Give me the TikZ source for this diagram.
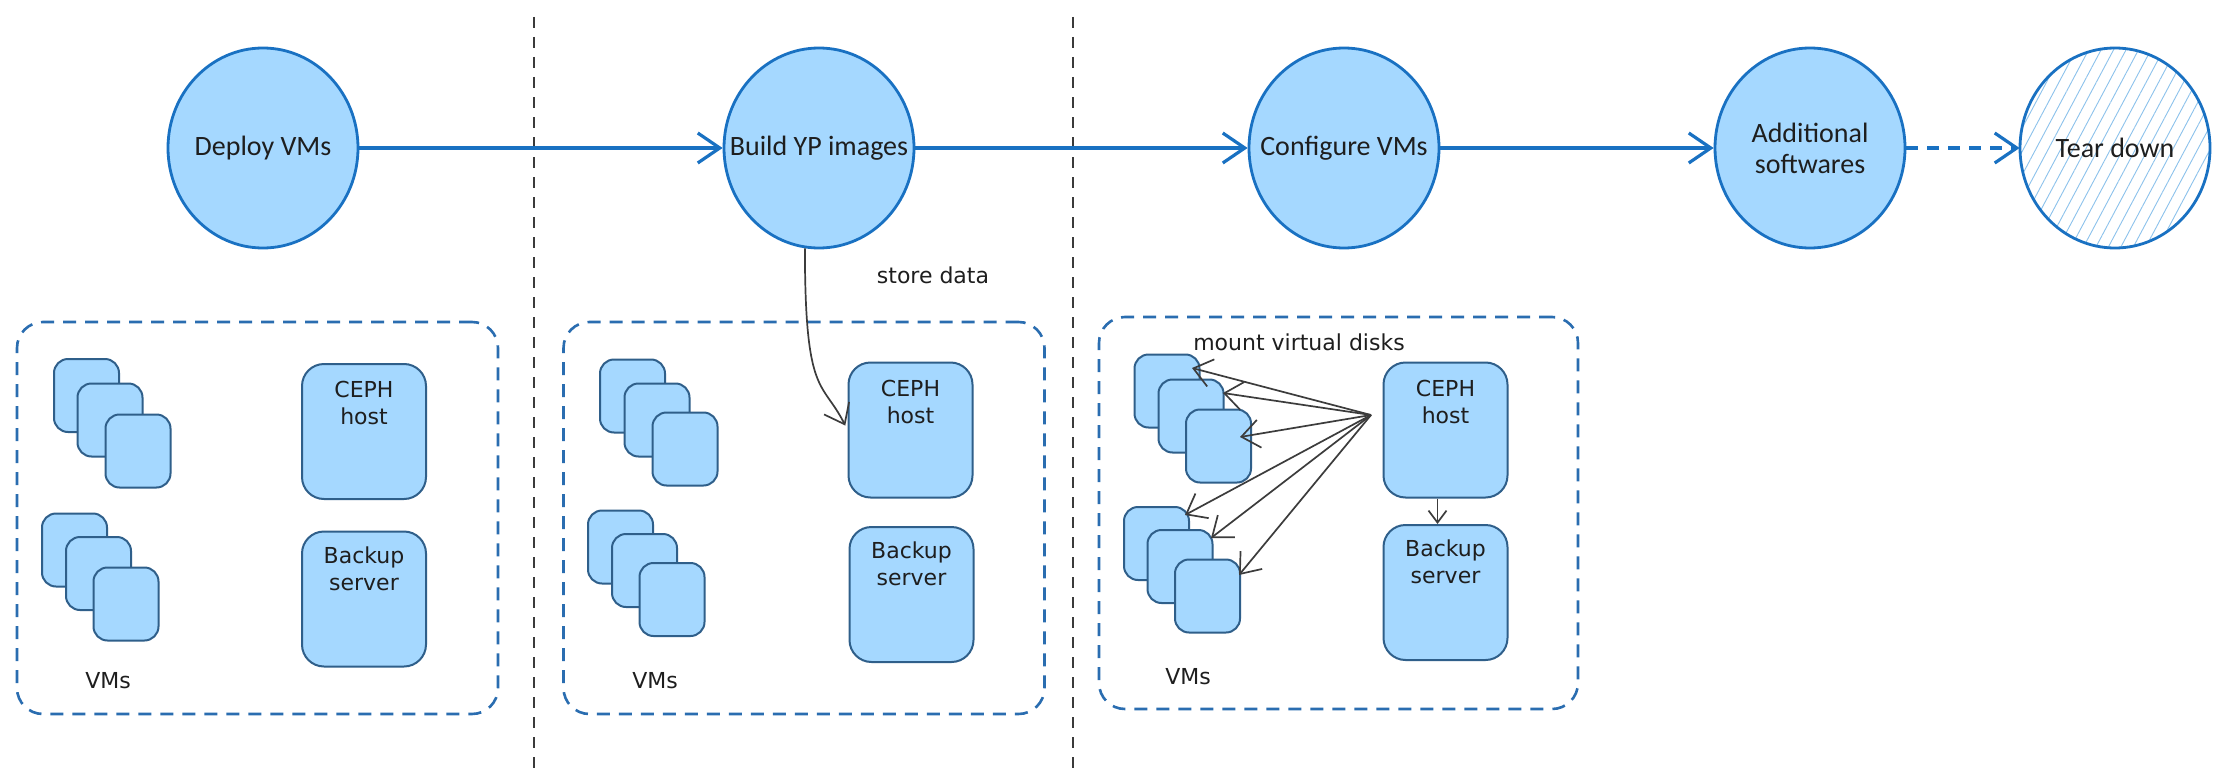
\documentclass[tikz,border=0pt]{standalone}
\usepackage{fontspec}
\setmainfont{Carlito}
\newfontfamily\boxfont{DejaVu Sans}
\usetikzlibrary{shapes.geometric,arrows.meta,patterns.meta,calc}
\definecolor{fillblue}{HTML}{A5D8FF}
\definecolor{strokeblue}{HTML}{1971C2}
\definecolor{groupblue}{HTML}{2A6DB0}
\definecolor{boxstroke}{HTML}{2F5F8A}
\definecolor{ink}{HTML}{1E1E1E}
\definecolor{hatchblue}{HTML}{8CC2EC}
\definecolor{sepgray}{HTML}{3A3A3A}
\definecolor{ptrgray}{HTML}{3C3C3C}
\tikzset{
  phase/.style={ellipse, draw=strokeblue, line width=2.8pt, fill=fillblue,
    minimum width=190pt, minimum height=200pt, inner xsep=-45pt, inner ysep=-30pt,
    align=center, text=ink, font=\fontsize{28}{31}\selectfont},
  phasehatch/.style={phase, fill=none, preaction={fill=white},
    pattern={Lines[angle=62,distance=11pt,line width=0.9pt]}, pattern color=hatchblue},
  flow/.style={draw=strokeblue, line width=3.2pt,
    -{Straight Barb[length=22pt,width=30pt]}},
  flowdash/.style={flow, dash pattern=on 12pt off 9pt},
  sepline/.style={draw=sepgray, line width=1.5pt, dash pattern=on 11pt off 9pt},
  groupbox/.style={draw=groupblue, line width=2.6pt, dash pattern=on 13pt off 9pt,
    rounded corners=26pt, inner sep=0pt},
  vm/.style={draw=boxstroke, line width=2pt, fill=fillblue, rounded corners=14pt,
    minimum width=65pt, minimum height=73pt, inner sep=0pt},
  server/.style={draw=boxstroke, line width=2pt, fill=fillblue, rounded corners=22pt,
    minimum width=124pt, minimum height=135pt, inner sep=0pt},
  lbl/.style={text=ink, inner sep=0pt, align=center,
    font=\boxfont\fontsize{22}{27}\selectfont},
  ptr/.style={draw=ptrgray, line width=1.7pt,
    -{Straight Barb[length=18pt,width=28pt]}},
}
\begin{document}
\begin{tikzpicture}[x=1pt,y=-1pt]
\useasboundingbox (0,0) rectangle (2217,768);
\fill[white] (0,0) rectangle (2217,768);

% separators
\coordinate (s1t) at (534,17);
\coordinate (s1b) at (534,768);
\coordinate (s2t) at (1073,17);
\coordinate (s2b) at (1073,768);
\draw[sepline] (s1t) -- (s1b);
\draw[sepline] (s2t) -- (s2b);

% phases
\node[phase] (deploy) at (263,148) {Deploy VMs};
\node[phase] (build) at (819,148) {Build YP images};
\node[phase] (configure) at (1344,148) {Configure VMs};
\node[phase] (additional) at (1810,148) {Additional\\softwares};
\node[phasehatch] (teardown) at (2115,148) {Tear down};

\draw[flow] (deploy) -- (build);
\draw[flow] (build) -- (configure);
\draw[flow] (configure) -- (additional);
\draw[flowdash] (additional) -- (teardown);

% group boxes
\node[groupbox, minimum width=481pt, minimum height=392pt] (g1) at (257.5,518) {};
\node[groupbox, minimum width=481pt, minimum height=392pt] (g2) at (804,518) {};
\node[groupbox, minimum width=479pt, minimum height=392pt] (g3) at (1338.5,513) {};

% box 1
\node[vm] (c1a1) at (86.5,395.5) {};
\node[vm] (c1a2) at (110,420) {};
\node[vm] (c1a3) at (138,451) {};
\node[vm] (c1b1) at (74.5,550) {};
\node[vm] (c1b2) at (98.5,573.5) {};
\node[vm] (c1b3) at (126,604) {};
\node[server] (ceph1) at (364,431.5) {};
\node[server] (backup1) at (364,599) {};
\node[lbl, anchor=north] (ceph1t) at ($(ceph1.north)+(0,18)$) {CEPH\\host};
\node[lbl, anchor=north] (backup1t) at ($(backup1.north)+(0,16)$) {Backup\\server};
\node[lbl] (vms1) at (108,681) {VMs};

% box 2
\node[vm] (c2a1) at (632.5,396) {};
\node[vm] (c2a2) at (657,420) {};
\node[vm] (c2a3) at (685,449) {};
\node[vm] (c2b1) at (620.5,547) {};
\node[vm] (c2b2) at (644.5,570.5) {};
\node[vm] (c2b3) at (672,599.5) {};
\node[server] (ceph2) at (910.5,430) {};
\node[server] (backup2) at (911.5,594.5) {};
\node[lbl, anchor=north] (ceph2t) at ($(ceph2.north)+(0,18)$) {CEPH\\host};
\node[lbl, anchor=north] (backup2t) at ($(backup2.north)+(0,16)$) {Backup\\server};
\node[lbl] (vms2) at (655,681) {VMs};
\node[lbl] (store) at (933,275) {store data};
\draw[ptr, shorten >=5pt] (build.262) .. controls +(0,150) and +(-25,-50) .. (ceph2.west);

% box 3
\node[vm] (c3a1) at (1167,391) {};
\node[vm] (c3a2) at (1191,416) {};
\node[vm] (c3a3) at (1218.5,446) {};
\node[vm] (c3b1) at (1156.5,543.5) {};
\node[vm] (c3b2) at (1180,566.5) {};
\node[vm] (c3b3) at (1207.5,596) {};
\node[server] (ceph3) at (1445.5,430) {};
\node[server] (backup3) at (1445.5,592.5) {};
\node[lbl, anchor=north] (ceph3t) at ($(ceph3.north)+(0,18)$) {CEPH\\host};
\node[lbl, anchor=north] (backup3t) at ($(backup3.north)+(0,16)$) {Backup\\server};
\node[lbl] (vms3) at (1188,677) {VMs};
\node[lbl] (mount) at (1299,342) {mount virtual disks};
\coordinate (msrc) at (1371,415);
\draw[ptr] (msrc) -- ($(c3a1.center)+(25,-23)$);
\draw[ptr] (msrc) -- ($(c3a2.center)+(32,-23)$);
\draw[ptr] (msrc) -- ($(c3a3.center)+(21.5,-9)$);
\draw[ptr] (msrc) -- ($(c3b1.center)+(28.5,-28.5)$);
\draw[ptr] (msrc) -- ($(c3b2.center)+(31,-28.5)$);
\draw[ptr] (msrc) -- ($(c3b3.center)+(31.5,-21)$);
\draw[ptr, -{Straight Barb[length=12pt,width=18pt]}] ([xshift=-8pt]ceph3.south) -- ([xshift=-8pt]backup3.north);
\end{tikzpicture}
\end{document}
